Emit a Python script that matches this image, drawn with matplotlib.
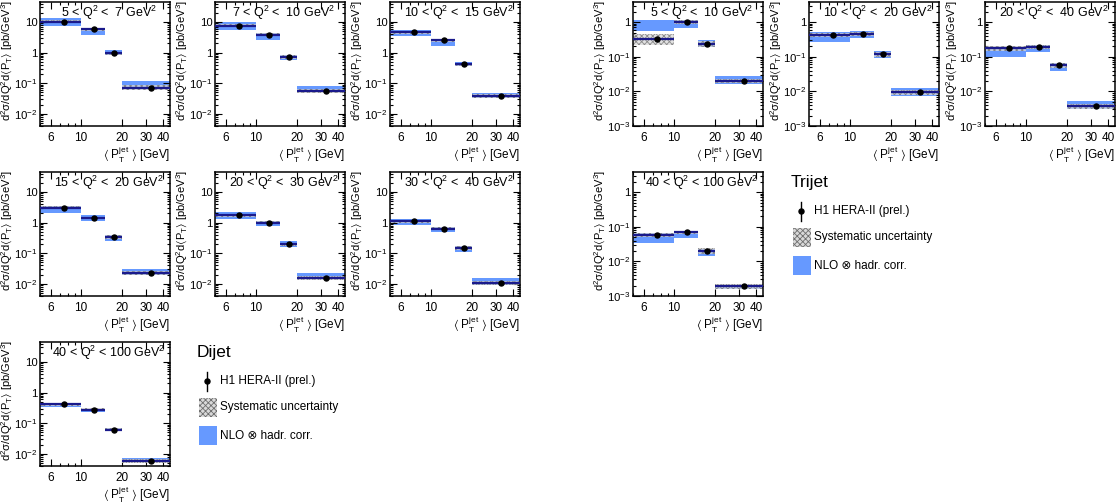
import numpy as np
import matplotlib
matplotlib.use("Agg")
import matplotlib.pyplot as plt
from matplotlib.patches import Rectangle
from matplotlib.ticker import FixedLocator, FixedFormatter, NullFormatter

plt.rcParams['font.family'] = ['Liberation Sans', 'DejaVu Sans']
plt.rcParams['mathtext.fontset'] = 'custom'
plt.rcParams['mathtext.rm'] = 'Liberation Sans'
plt.rcParams['mathtext.it'] = 'Liberation Sans'
plt.rcParams['mathtext.default'] = 'regular'
plt.rcParams['hatch.linewidth'] = 0.6

# bins in <PT jet> [GeV]
bin_edges = [5, 10, 15, 20, 45]
bin_centers = [7.5, 12.5, 17.5, 32.5]

# ---- dijet ----
dijet_titles = ["5 < Q$^{2}$ <  7 GeV$^{2}$", "7 < Q$^{2}$ <  10 GeV$^{2}$",
                "10 < Q$^{2}$ <  15 GeV$^{2}$", "15 < Q$^{2}$ <  20 GeV$^{2}$",
                "20 < Q$^{2}$ <  30 GeV$^{2}$", "30 < Q$^{2}$ <  40 GeV$^{2}$",
                "40 < Q$^{2}$ < 100 GeV$^{2}$"]
dijet_xs = [[10.3, 5.8, 0.95, 0.072],
            [7.6, 3.85, 0.72, 0.056],
            [4.6, 2.5, 0.42, 0.038],
            [3.1, 1.42, 0.34, 0.023],
            [1.74, 1.0, 0.195, 0.0158],
            [1.1, 0.64, 0.15, 0.0108],
            [0.42, 0.28, 0.062, 0.0058]]
dijet_nlo_lo = [[7.4, 3.75, 0.86, 0.07],
                [5.3, 2.5, 0.59, 0.05],
                [3.5, 1.7, 0.37, 0.032],
                [2.07, 1.13, 0.25, 0.02],
                [1.29, 0.78, 0.16, 0.0145],
                [0.82, 0.49, 0.11, 0.0095],
                [0.33, 0.24, 0.056, 0.0053]]
dijet_nlo_hi = [[13.5, 6.4, 1.25, 0.12],
                [9.8, 4.4, 0.86, 0.083],
                [5.5, 2.75, 0.51, 0.049],
                [3.5, 1.74, 0.39, 0.031],
                [2.2, 1.13, 0.25, 0.022],
                [1.35, 0.72, 0.17, 0.015],
                [0.47, 0.30, 0.07, 0.0075]]
dijet_sys = [[0.10, 0.10, 0.12, 0.18],
             [0.10, 0.10, 0.12, 0.15],
             [0.10, 0.10, 0.12, 0.15],
             [0.10, 0.10, 0.12, 0.15],
             [0.10, 0.10, 0.12, 0.15],
             [0.10, 0.10, 0.12, 0.15],
             [0.10, 0.10, 0.12, 0.15]]
dijet_stat = [[0.02, 0.03, 0.04, 0.08],
              [0.02, 0.03, 0.04, 0.08],
              [0.02, 0.03, 0.04, 0.08],
              [0.02, 0.03, 0.04, 0.08],
              [0.02, 0.03, 0.04, 0.08],
              [0.02, 0.03, 0.04, 0.08],
              [0.03, 0.04, 0.05, 0.10]]

# ---- trijet ----
trijet_titles = ["5 < Q$^{2}$ <  10 GeV$^{2}$", "10 < Q$^{2}$ <  20 GeV$^{2}$",
                 "20 < Q$^{2}$ <  40 GeV$^{2}$", "40 < Q$^{2}$ < 100 GeV$^{2}$"]
trijet_xs = [[0.33, 1.0, 0.235, 0.020],
             [0.43, 0.45, 0.117, 0.0093],
             [0.175, 0.195, 0.057, 0.0037],
             [0.058, 0.069, 0.020, 0.0019]]
trijet_nlo_lo = [[0.55, 0.68, 0.19, 0.016],
                 [0.26, 0.35, 0.093, 0.0075],
                 [0.10, 0.14, 0.039, 0.0031],
                 [0.033, 0.048, 0.014, 0.0016]]
trijet_nlo_hi = [[1.17, 1.17, 0.31, 0.028],
                 [0.52, 0.57, 0.145, 0.0125],
                 [0.195, 0.22, 0.067, 0.0051],
                 [0.065, 0.076, 0.023, 0.0021]]
trijet_sys = [[0.35, 0.12, 0.18, 0.15],
              [0.12, 0.12, 0.18, 0.15],
              [0.15, 0.12, 0.18, 0.15],
              [0.15, 0.12, 0.18, 0.15]]
trijet_stat = [[0.15, 0.06, 0.08, 0.10],
               [0.06, 0.06, 0.08, 0.10],
               [0.06, 0.06, 0.08, 0.10],
               [0.06, 0.06, 0.08, 0.10]]

x_ticks = [6, 10, 20, 30, 40]
x_minor = [5, 7, 8, 9]
dijet_yticks = [1e-2, 1e-1, 1, 10]
dijet_ylabels = ["10$^{-2}$", "10$^{-1}$", "1", "10"]
trijet_yticks = [1e-3, 1e-2, 1e-1, 1]
trijet_ylabels = ["10$^{-3}$", "10$^{-2}$", "10$^{-1}$", "1"]

BLUE = '#6699ff'
NAVY = '#1a1a8c'
W, H = 1120, 504
AW, AH = 130, 124  # panel size in pixels


def px_axes(fig, x0, y0, w, h):
    # pixel box (top-left origin) -> figure fraction
    return fig.add_axes([x0 / W, 1 - (y0 + h) / H, w / W, h / H])


def panel(ax, title, xs, lo, hi, sys, stat, yticks, ylabels, ylim):
    for i in range(4):
        left = bin_edges[i]
        width = bin_edges[i + 1] - bin_edges[i]
        ax.bar(left, hi[i] - lo[i], bottom=lo[i], width=width, align='edge',
               color=BLUE, linewidth=0, zorder=1)
        s_lo = xs[i] * (1 - sys[i])
        s_hi = xs[i] * (1 + sys[i])
        ax.bar(left, s_hi - s_lo, bottom=s_lo, width=width, align='edge',
               facecolor='#d9d9d9', edgecolor='#6e6e6e', hatch='xxxxxx',
               linewidth=0, alpha=0.75, zorder=2)
        ax.plot([bin_edges[i], bin_edges[i + 1]], [xs[i], xs[i]], color=NAVY,
                lw=1.6, zorder=3, solid_capstyle='butt')
    err = [x * s for x, s in zip(xs, stat)]
    ax.errorbar(bin_centers, xs, yerr=err, fmt='o', color='black', ms=3.6,
                elinewidth=1.0, capsize=0, zorder=4)

    ax.set_xscale('log')
    ax.set_yscale('log')
    ax.set_xlim(5, 45)
    ax.set_ylim(*ylim)
    ax.xaxis.set_major_locator(FixedLocator(x_ticks))
    ax.xaxis.set_major_formatter(FixedFormatter([str(t) for t in x_ticks]))
    ax.xaxis.set_minor_locator(FixedLocator(x_minor))
    ax.xaxis.set_minor_formatter(NullFormatter())
    ax.yaxis.set_major_locator(FixedLocator(yticks))
    ax.yaxis.set_major_formatter(FixedFormatter(ylabels))
    ax.tick_params(which='both', direction='in', top=True, right=True,
                   labelsize=8.5, width=0.8)
    ax.tick_params(axis='y', labelsize=8.2, pad=1.5)
    ax.tick_params(which='major', length=5)
    ax.tick_params(which='minor', length=2.5)
    ax.tick_params(axis='x', pad=4)
    for sp in ax.spines.values():
        sp.set_linewidth(1.1)

    ax.set_ylabel(r"d$^{2}$σ/dQ$^{2}$d$\langle$P$_{T}\rangle$ [pb/GeV$^{3}$]",
                  fontsize=8, loc='top')
    ax.yaxis.set_label_coords(-25 / AW, 1.02)
    ax.set_xlabel(r"$\langle$ P$_{T}^{jet}$ $\rangle$ [GeV]", fontsize=8.5,
                  loc='right', labelpad=1)
    ax.text(0.53, 0.88, title, transform=ax.transAxes, ha='center',
            va='baseline', fontsize=9)


fig = plt.figure(figsize=(W / 100, H / 100), dpi=100)

dijet_pos = [(40, 2), (215, 2), (390, 2),
             (40, 172), (215, 172), (390, 172),
             (40, 342)]
for k, (x0, y0) in enumerate(dijet_pos):
    ax = px_axes(fig, x0, y0, AW, AH)
    panel(ax, dijet_titles[k], dijet_xs[k], dijet_nlo_lo[k], dijet_nlo_hi[k],
          dijet_sys[k], dijet_stat[k], dijet_yticks, dijet_ylabels, (4e-3, 45))

trijet_pos = [(633, 2), (809, 2), (985, 2), (633, 172)]
for k, (x0, y0) in enumerate(trijet_pos):
    ax = px_axes(fig, x0, y0, AW, AH)
    panel(ax, trijet_titles[k], trijet_xs[k], trijet_nlo_lo[k], trijet_nlo_hi[k],
          trijet_sys[k], trijet_stat[k], trijet_yticks, trijet_ylabels, (1e-3, 3.8))

# legends drawn in pixel coordinates on an overlay
lg = fig.add_axes([0, 0, 1, 1], zorder=-1)
lg.set_xlim(0, W)
lg.set_ylim(H, 0)
lg.axis('off')


def legend(x, y, name):
    lg.text(x - 2, y, name, fontsize=12.5, va='center', ha='left')
    lg.plot([x + 8, x + 8], [y + 19, y + 38], color='black', lw=1.0)
    lg.plot(x + 8, y + 28, 'o', color='black', ms=3.6)
    lg.text(x + 21, y + 28, "H1 HERA-II (prel.)", fontsize=8.5, va='center')
    lg.add_patch(Rectangle((x, y + 45), 18, 19, facecolor='#d9d9d9',
                           edgecolor='#6e6e6e', hatch='xxxxxx', linewidth=0))
    lg.text(x + 21, y + 54, "Systematic uncertainty", fontsize=8.5, va='center')
    lg.add_patch(Rectangle((x, y + 73), 18, 19, facecolor=BLUE, linewidth=0))
    lg.text(x + 21, y + 83, "NLO ⊗ hadr. corr.", fontsize=8.5, va='center')


legend(199, 353, "Dijet")
legend(793, 183, "Trijet")

fig.savefig("out.png", dpi=100)
